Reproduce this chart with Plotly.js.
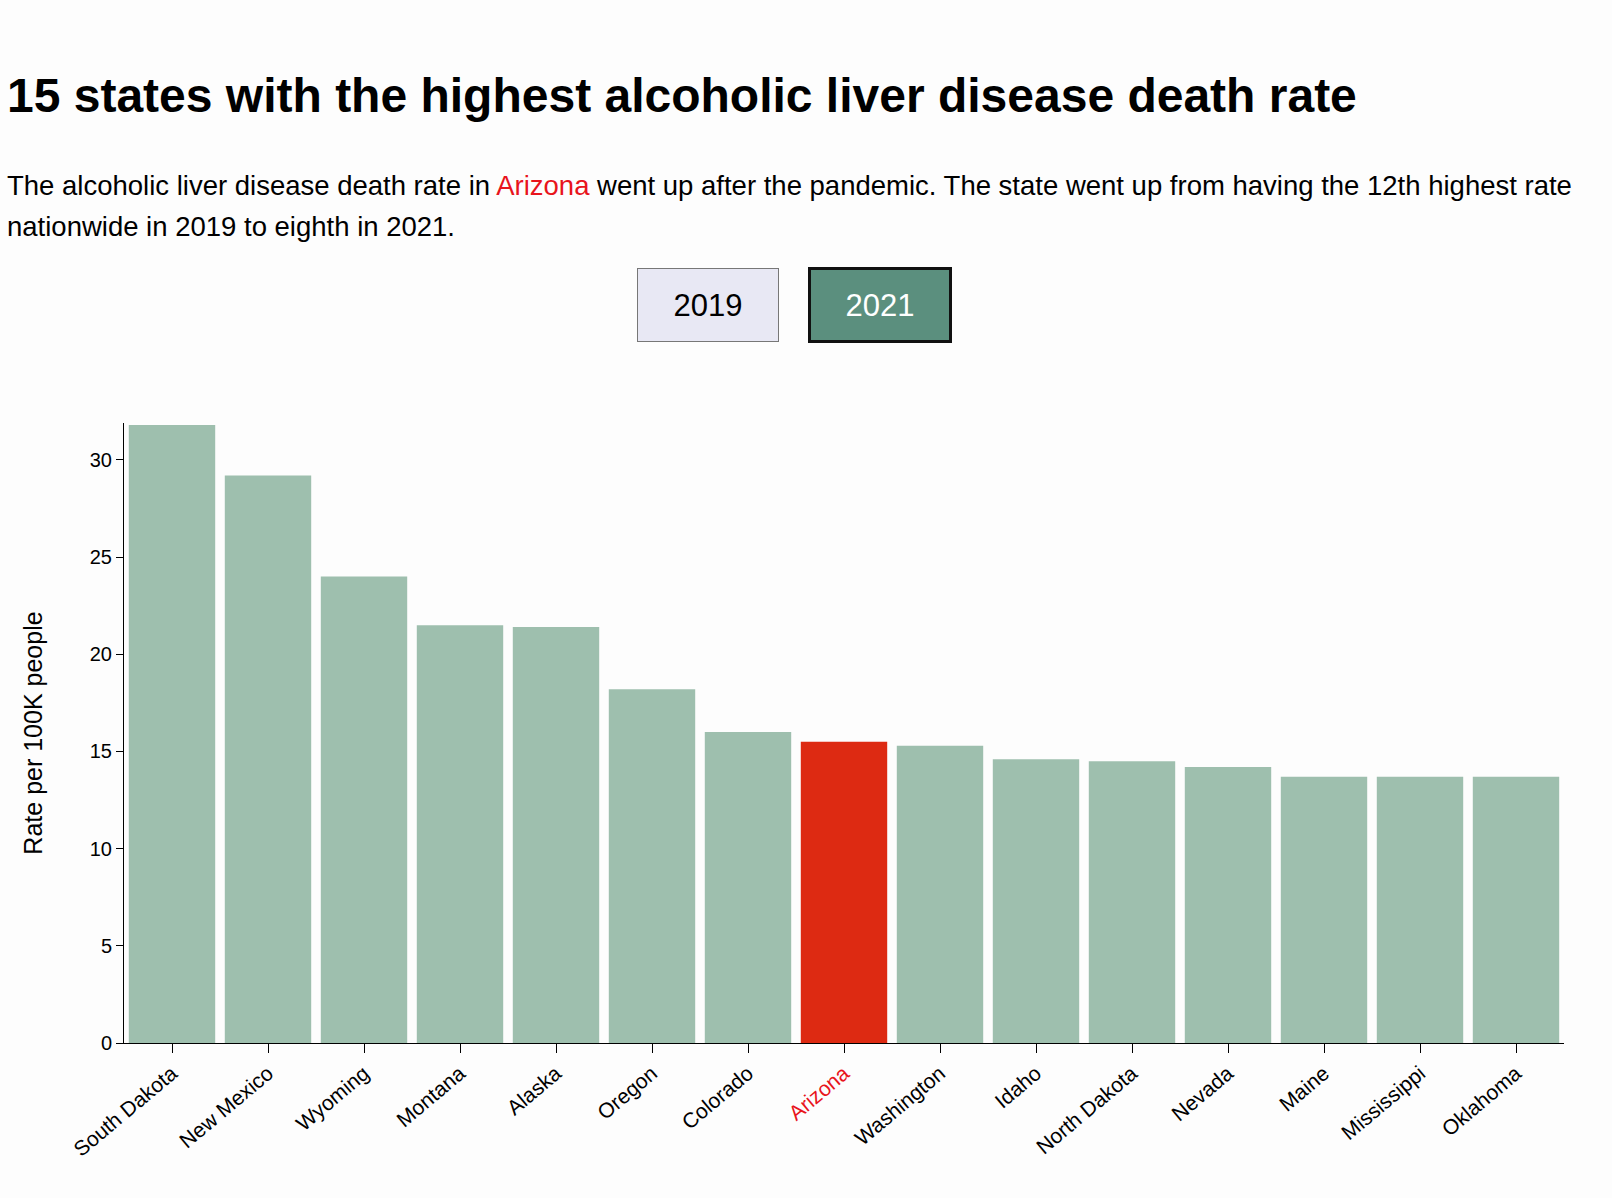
<!DOCTYPE html>
<html>
<head>
<meta charset="utf-8">
<script src="https://cdn.plot.ly/plotly-3.0.1.min.js"></script>
<style>
  body { margin: 0; background: #fdfdfd; }
  #chart { width: 1612px; height: 1198px; }
</style>
</head>
<body>
<div id="chart"></div>
<script>
let states = ['South Dakota', 'New Mexico', 'Wyoming', 'Montana', 'Alaska', 'Oregon', 'Colorado',
    'Arizona', 'Washington', 'Idaho', 'North Dakota', 'Nevada', 'Maine', 'Mississippi', 'Oklahoma'];
let rates2021 = [31.8, 29.2, 24.0, 21.5, 21.4, 18.2, 16.0, 15.5, 15.3, 14.6, 14.5, 14.2, 13.7, 13.7, 13.7];
let highlight = 'Arizona';

let W = 1612, H = 1198;
let k = 1612 / 1568;   // reference measured at 1568 wide
let margin = { l: Math.round(121 * k), r: Math.round(W - 1521 * k), t: Math.round(411 * k), b: Math.round(H - 1015 * k) };
let plotH = H - margin.t - margin.b;
let plotW = W - margin.l - margin.r;

// reference pixel -> paper coords
function px(x) { return (x * k - margin.l) / plotW; }
function py(y) { return (H - margin.b - y * k) / plotH; }

let font = 'Liberation Sans, Arial, sans-serif';

let barColors = states.map(function (s) { return s === highlight ? '#dd2a12' : '#9ebfae'; });
let tickText = states.map(function (s) {
    return s === highlight ? '<span style="color:#e8141c">' + s + '</span>' : s;
});

let data = [{
    x: states,
    y: rates2021,
    type: 'bar',
    marker: { color: barColors },
    hoverinfo: 'x+y'
}];

let layout = {
    width: W,
    height: H,
    margin: margin,
    paper_bgcolor: '#fdfdfd',
    plot_bgcolor: '#fdfdfd',
    font: { family: font, color: '#000', size: 21 },
    bargap: 0.1,
    showlegend: false,
    xaxis: {
        tickvals: states,
        ticktext: tickText,
        tickangle: -40,
        ticks: 'outside',
        ticklen: 9,
        tickcolor: '#000',
        showline: true,
        linecolor: '#000',
        tickfont: { size: 21 }
    },
    yaxis: {
        range: [0, 31.9],
        dtick: 5,
        ticks: 'outside',
        ticklen: 7,
        tickcolor: '#000',
        showline: true,
        linecolor: '#000',
        showgrid: false,
        zeroline: false,
        tickfont: { size: 20 },
        title: { text: 'Rate per 100K people', font: { size: 25 }, standoff: 40 }
    },
    annotations: [
        {
            text: '<b>15 states with the highest alcoholic liver disease death rate</b>',
            xref: 'paper', yref: 'paper', x: px(5), y: py(93),
            xanchor: 'left', yanchor: 'middle', showarrow: false,
            font: { size: 48, color: '#000' }
        },
        {
            text: 'The alcoholic liver disease death rate in <span style="color:#e8141c">Arizona</span> went up after the pandemic. The state went up from having the 12th highest rate',
            xref: 'paper', yref: 'paper', x: px(5), y: py(180),
            xanchor: 'left', yanchor: 'middle', showarrow: false,
            font: { size: 27.5, color: '#000' }
        },
        {
            text: 'nationwide in 2019 to eighth in 2021.',
            xref: 'paper', yref: 'paper', x: px(5), y: py(220),
            xanchor: 'left', yanchor: 'middle', showarrow: false,
            font: { size: 27.5, color: '#000' }
        },
        {
            text: '2019',
            xref: 'paper', yref: 'paper', x: px(689), y: py(297),
            xanchor: 'center', yanchor: 'middle', showarrow: false,
            width: 138, height: 70, bgcolor: '#e8e8f4', bordercolor: '#777', borderwidth: 1,
            font: { size: 31, color: '#000' }
        },
        {
            text: '2021',
            xref: 'paper', yref: 'paper', x: px(856), y: py(297),
            xanchor: 'center', yanchor: 'middle', showarrow: false,
            width: 136, height: 68, bgcolor: '#5b8f7e', bordercolor: '#111', borderwidth: 3,
            font: { size: 31, color: '#fff' }
        }
    ]
};

Plotly.newPlot('chart', data, layout, { displayModeBar: false });
</script>
</body>
</html>
